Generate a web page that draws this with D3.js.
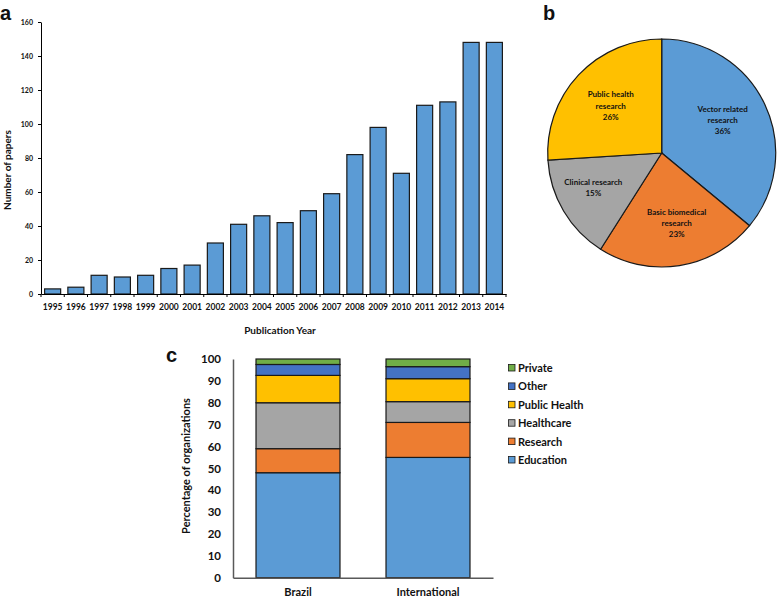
<!DOCTYPE html>
<html>
<head>
<meta charset="utf-8">
<script src="https://cdn.jsdelivr.net/npm/d3@7"></script>
<style>
  html, body { margin: 0; padding: 0; background: #fff; }
  svg { display: block; }
  text { font-family: Lato, "Open Sans", sans-serif; font-weight: bold; fill: #111; }
</style>
</head>
<body>
<svg id="chart" width="778" height="600"></svg>
<script>
// ---- Panel a data ----
const years = ["1995","1996","1997","1998","1999","2000","2001","2002","2003","2004",
               "2005","2006","2007","2008","2009","2010","2011","2012","2013","2014"];
const papers = [3,4,11,10,11,15,17,30,41,46,42,49,59,82,98,71,111,113,148,148];
const yTicksA = [0,20,40,60,80,100,120,140,160];

// ---- Panel b data ----
const pieLabels = [["Vector related","research","36%"],["Basic biomedical","research","23%"],
                   ["Clinical research","15%"],["Public health","research","26%"]];
const pieValues = [36,23,15,26];
const pieColors = ["#5B9BD5","#ED7D31","#A5A5A5","#FFC000"];

// ---- Panel c data ----
const groups = ["Brazil","International"];
const orgTypes = ["Education","Research","Healthcare","Public Health","Other","Private"];
const orgColors = ["#5B9BD5","#ED7D31","#A5A5A5","#FFC000","#4472C4","#70AD47"];
const brazilVals = [48,11,21,12.5,5,2.5];
const intlVals = [55,16,9.5,10.5,5.5,3.5];
const yTicksC = [0,10,20,30,40,50,60,70,80,90,100];

const svg = d3.select("#chart");
svg.append("rect").attr("width",778).attr("height",600).attr("fill","#fff");

// ================= Panel a =================
{
  const g = svg.append("g");
  const x = d3.scaleBand().domain(years).range([41,506]).paddingInner(0.31).paddingOuter(0.155);
  const y = d3.scaleLinear().domain([0,160]).range([294,22]);

  g.selectAll("rect.bar").data(papers).join("rect")
    .attr("class","bar")
    .attr("x",(d,i)=>x(years[i]))
    .attr("width",x.bandwidth())
    .attr("y",d=>y(d))
    .attr("height",d=>y(0)-y(d))
    .attr("fill","#5B9BD5").attr("stroke","#1a1a1a").attr("stroke-width",1.2);

  const ya = g.append("g").attr("transform","translate(41,0)")
    .call(d3.axisLeft(y).tickValues(yTicksA).tickSize(3).tickPadding(5).tickSizeOuter(0));
  ya.select(".domain").attr("stroke","#000");
  ya.selectAll(".tick line").attr("stroke","#000");
  ya.selectAll("text").style("font-size","7px").attr("fill","#111");

  const xa = g.append("g").attr("transform","translate(0,294)")
    .call(d3.axisBottom(x).tickSize(0).tickPadding(10));
  xa.select(".domain").attr("stroke","#000");
  xa.selectAll("text").style("font-size","8.5px").attr("fill","#111");
  // boundary ticks
  const bounds = d3.range(years.length+1).map(i => x.range()[0] + i*x.step());
  g.selectAll("line.bt").data(bounds).join("line")
    .attr("x1",d=>d).attr("x2",d=>d).attr("y1",294).attr("y2",297)
    .attr("stroke","#000");

  g.append("text").attr("x",280).attr("y",334).attr("text-anchor","middle")
    .style("font-size","10px").text("Publication Year");
  g.append("text").attr("transform","translate(11,170) rotate(-90)").attr("text-anchor","middle")
    .style("font-size","10px").text("Number of papers");
  g.append("text").attr("x",0).attr("y",20).style("font-size","20px")
    .style("font-family","'Liberation Sans', Arial, sans-serif").text("a");
}

// ================= Panel b =================
{
  const cx = 661.7, cy = 153, r = 114;
  const g = svg.append("g").attr("transform",`translate(${cx},${cy})`);
  const pie = d3.pie().sort(null).value(d=>d)(pieValues);
  const arc = d3.arc().innerRadius(0).outerRadius(r);
  g.selectAll("path").data(pie).join("path")
    .attr("d",arc).attr("fill",(d,i)=>pieColors[i])
    .attr("stroke","#1a1a1a").attr("stroke-width",1.2);

  const labelPos = [[61,108.7],[15,212],[-68.4,181.7],[-51,94.3]];
  pieLabels.forEach((lines,i)=>{
    const t = svg.append("text").attr("text-anchor","middle").style("font-size","8px");
    lines.forEach((ln,j)=>{
      t.append("tspan").attr("x",cx+labelPos[i][0]).attr("y",labelPos[i][1]+3+j*11.2).text(ln);
    });
  });
  svg.append("text").attr("x",543).attr("y",20).style("font-size","20px")
    .style("font-family","'Liberation Sans', Arial, sans-serif").text("b");
}

// ================= Panel c =================
{
  const g = svg.append("g");
  const x = d3.scaleBand().domain(groups).range([233,493]).paddingInner(0.354).paddingOuter(0.177);
  const y = d3.scaleLinear().domain([0,100]).range([577.7,359]);
  const rows = groups.map((gname,i)=>{
    const vals = i===0 ? brazilVals : intlVals;
    const o = {group:gname};
    orgTypes.forEach((k,j)=>o[k]=vals[j]);
    return o;
  });
  const stack = d3.stack().keys(orgTypes)(rows);
  stack.forEach((layer,li)=>{
    g.selectAll(null).data(layer).join("rect")
      .attr("x",d=>x(d.data.group))
      .attr("width",x.bandwidth())
      .attr("y",d=>y(d[1]))
      .attr("height",d=>y(d[0])-y(d[1]))
      .attr("fill",orgColors[li]).attr("stroke","#1a1a1a").attr("stroke-width",1.2);
  });

  const ya = g.append("g").attr("transform","translate(233,0)")
    .call(d3.axisLeft(y).tickValues(yTicksC).tickSize(0).tickPadding(12));
  ya.select(".domain").attr("stroke","#595959").attr("stroke-width",1.5);
  ya.selectAll("text").style("font-size","11.5px").attr("fill","#111");

  const xa = g.append("g").attr("transform","translate(0,577.7)")
    .call(d3.axisBottom(x).tickSize(0).tickPadding(11));
  xa.select(".domain").attr("stroke","#595959").attr("stroke-width",1.5);
  xa.selectAll("text").style("font-size","11px").attr("fill","#111");

  g.append("text").attr("transform","translate(190,466) rotate(-90)").attr("text-anchor","middle")
    .style("font-size","11px").text("Percentage of organizations");
  g.append("text").attr("x",166).attr("y",362).style("font-size","20px")
    .style("font-family","'Liberation Sans', Arial, sans-serif").text("c");

  // legend (top to bottom: Private ... Education)
  const legOrder = orgTypes.map((k,i)=>({k,c:orgColors[i]})).reverse();
  const lg = g.append("g");
  legOrder.forEach((d,i)=>{
    const yy = 368 + i*18.4;
    lg.append("rect").attr("x",508.5).attr("y",yy-3.5).attr("width",6.5).attr("height",6.5)
      .attr("fill",d.c).attr("stroke","#1a1a1a").attr("stroke-width",0.8);
    lg.append("text").attr("x",518).attr("y",yy+4).style("font-size","11px").text(d.k);
  });
}
</script>
</body>
</html>
